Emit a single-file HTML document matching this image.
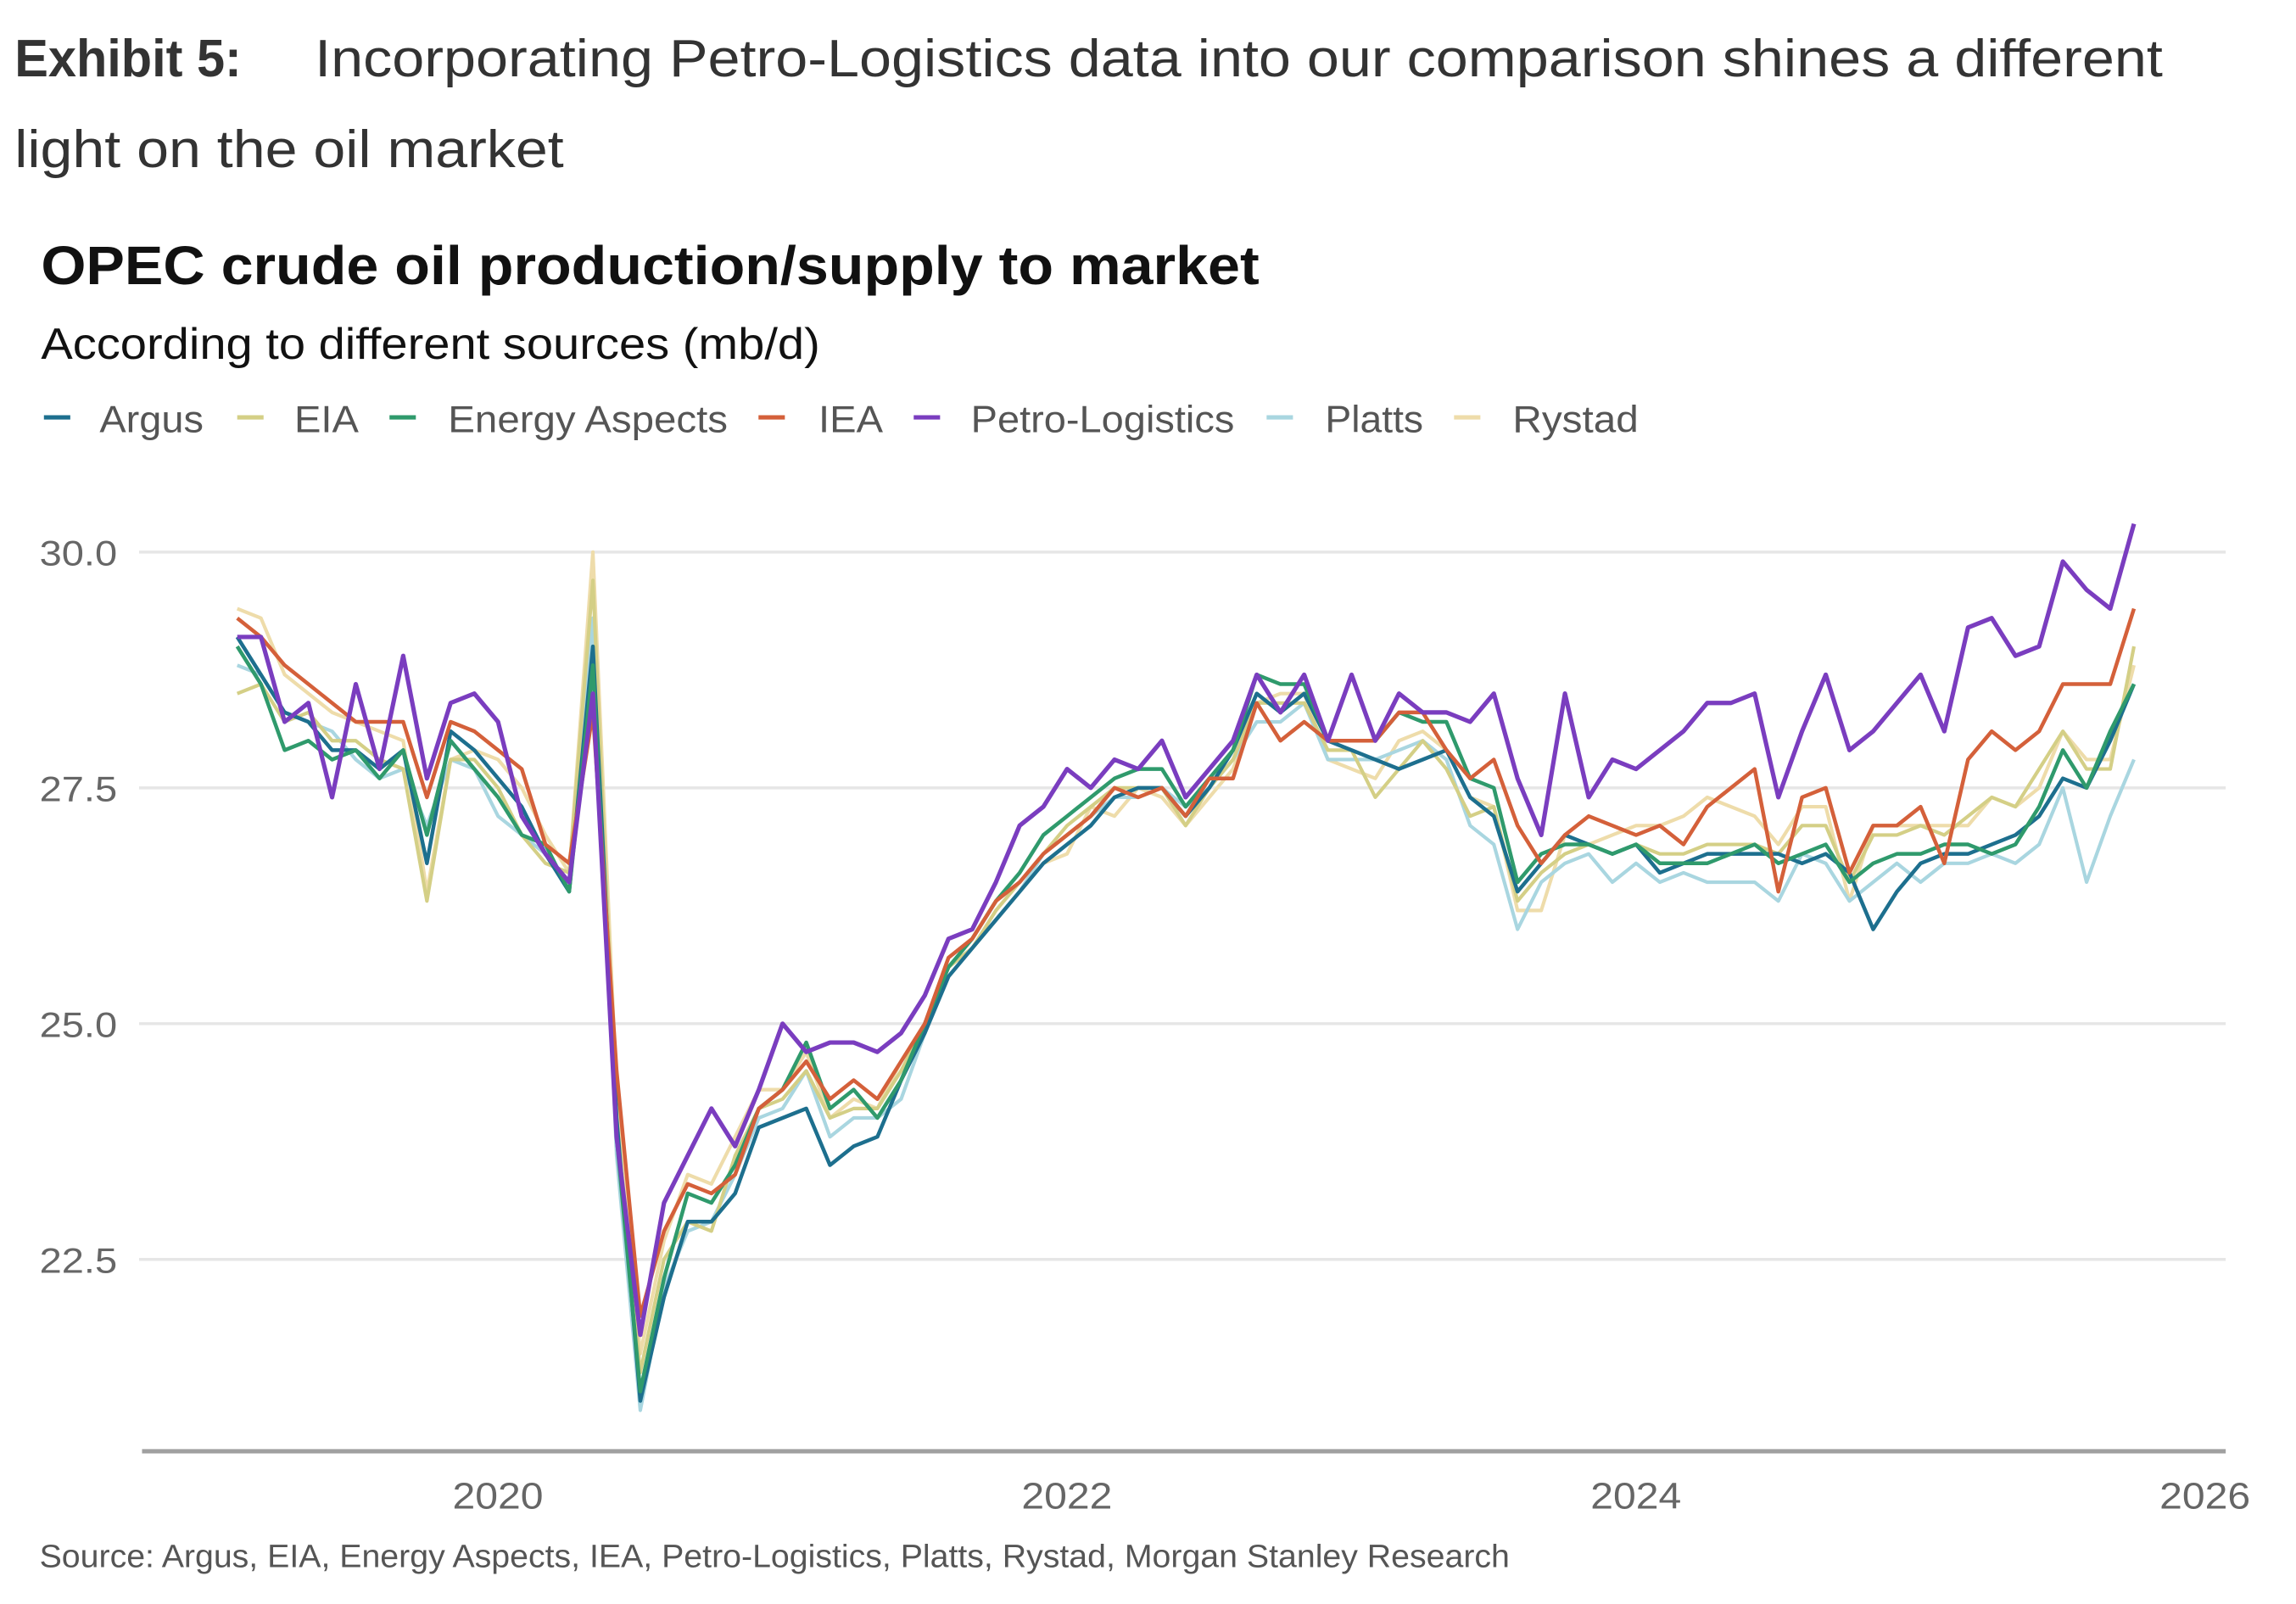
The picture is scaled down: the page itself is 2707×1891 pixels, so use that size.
<!DOCTYPE html>
<html><head><meta charset="utf-8"><style>
html,body{margin:0;padding:0;background:#fff;}
svg{display:block;}
text{font-family:"Liberation Sans",Arial,sans-serif;}
</style></head>
<body>
<svg id="chart" width="2707" height="1891" viewBox="0 0 1568 1095.3" preserveAspectRatio="none" xmlns="http://www.w3.org/2000/svg">
<rect width="1568" height="1096" fill="#fff"/>
<text x="10" y="52" font-size="36" font-weight="bold" fill="#333" textLength="155" lengthAdjust="spacingAndGlyphs">Exhibit 5:</text>
<text x="215" y="52" font-size="36" fill="#333" textLength="1262" lengthAdjust="spacingAndGlyphs">Incorporating Petro-Logistics data into our comparison shines a different</text>
<text x="10" y="114" font-size="36" fill="#333" textLength="375" lengthAdjust="spacingAndGlyphs">light on the oil market</text>
<text x="28" y="194" font-size="37" font-weight="bold" fill="#111" textLength="832" lengthAdjust="spacingAndGlyphs">OPEC crude oil production/supply to market</text>
<text x="28" y="245" font-size="30" fill="#111" textLength="532" lengthAdjust="spacingAndGlyphs">According to different sources (mb/d)</text>
<g id="legend"></g>
<g id="grid"></g>
<g id="series"></g>
<line x1="97" y1="991" x2="1520" y2="991" stroke="#a0a0a0" stroke-width="3"/>
<g id="xaxis"></g>
<text x="27" y="1070" font-size="22" fill="#555" textLength="1004" lengthAdjust="spacingAndGlyphs">Source: Argus, EIA, Energy Aspects, IEA, Petro-Logistics, Platts, Rystad, Morgan Stanley Research</text>
</svg>
<script>
const seriesNames = ["Argus","EIA","Energy Aspects","IEA","Petro-Logistics","Platts","Rystad"];
const seriesColors = ["#1d6f8e","#d4cf86","#2f9a6c","#d4603a","#7a3dbf","#a9d6e0","#eedcaa"];
const yTicks = [22.5,25.0,27.5,30.0];
const yTickLabels = ["22.5","25.0","27.5","30.0"];
const xTicks = [2020,2022,2024,2026];
const xTickLabels = ["2020","2022","2024","2026"];
const startYear = 2019.084;
const argus = [29.1,28.7,28.3,28.2,27.9,27.9,27.7,27.9,26.7,28.1,27.9,27.6,27.3,26.8,26.4,29.0,24.0,21.0,22.1,22.9,22.9,23.2,23.9,24.0,24.1,23.5,23.7,23.8,24.4,24.9,25.5,25.8,26.1,26.4,26.7,26.9,27.1,27.4,27.5,27.5,27.2,27.5,27.9,28.5,28.3,28.5,28.0,27.9,27.8,27.7,27.8,27.9,27.4,27.2,26.4,26.7,27.0,26.9,26.8,26.9,26.6,26.7,26.8,26.8,26.8,26.8,26.7,26.8,26.6,26.0,26.4,26.7,26.8,26.8,26.9,27.0,27.2,27.6,27.5,28.0,28.6];
const eia = [28.5,28.6,28.2,28.3,28.0,28.0,27.8,27.7,26.3,27.8,27.8,27.5,27.0,26.7,26.6,29.7,24.0,21.3,22.5,22.9,22.8,23.6,24.1,24.2,24.5,24.0,24.1,24.1,24.5,25.0,25.6,25.8,26.2,26.5,26.8,27.1,27.3,27.5,27.5,27.5,27.1,27.5,27.8,28.4,28.4,28.4,27.9,27.9,27.4,27.7,28.0,27.7,27.2,27.3,26.3,26.6,26.8,26.9,26.8,26.9,26.8,26.8,26.9,26.9,26.9,26.8,27.1,27.1,26.5,27.0,27.0,27.1,27.0,27.2,27.4,27.3,27.7,28.1,27.7,27.7,29.0];
const energyAspects = [29.0,28.6,27.9,28.0,27.8,27.9,27.6,27.9,27.0,28.0,27.7,27.4,27.0,26.9,26.4,28.8,23.8,21.1,22.3,23.2,23.1,23.5,24.1,24.3,24.8,24.1,24.3,24.0,24.4,25.0,25.6,25.9,26.3,26.6,27.0,27.2,27.4,27.6,27.7,27.7,27.3,27.6,27.9,28.7,28.6,28.6,28.0,28.0,28.0,28.3,28.2,28.2,27.6,27.5,26.5,26.8,26.9,26.9,26.8,26.9,26.7,26.7,26.7,26.8,26.9,26.7,26.8,26.9,26.5,26.7,26.8,26.8,26.9,26.9,26.8,26.9,27.3,27.9,27.5,28.1,28.6];
const iea = [29.3,29.1,28.8,28.6,28.4,28.2,28.2,28.2,27.4,28.2,28.1,27.9,27.7,26.9,26.7,28.3,24.5,21.9,22.8,23.3,23.2,23.4,24.1,24.3,24.6,24.2,24.4,24.2,24.6,25.0,25.7,25.9,26.3,26.5,26.8,27.0,27.2,27.5,27.4,27.5,27.2,27.6,27.6,28.4,28.0,28.2,28.0,28.0,28.0,28.3,28.3,27.9,27.6,27.8,27.1,26.7,27.0,27.2,27.1,27.0,27.1,26.9,27.3,27.5,27.7,26.4,27.4,27.5,26.6,27.1,27.1,27.3,26.7,27.8,28.1,27.9,28.1,28.6,28.6,28.6,29.4];
const petroLogistics = [29.1,29.1,28.2,28.4,27.4,28.6,27.7,28.9,27.6,28.4,28.5,28.2,27.2,26.8,26.5,28.5,23.8,21.7,23.1,23.6,24.1,23.7,24.3,25.0,24.7,24.8,24.8,24.7,24.9,25.3,25.9,26.0,26.5,27.1,27.3,27.7,27.5,27.8,27.7,28.0,27.4,27.7,28.0,28.7,28.3,28.7,28.0,28.7,28.0,28.5,28.3,28.3,28.2,28.5,27.6,27.0,28.5,27.4,27.8,27.7,27.9,28.1,28.4,28.4,28.5,27.4,28.1,28.7,27.9,28.1,28.4,28.7,28.1,29.2,29.3,28.9,29.0,29.9,29.6,29.4,30.3];
const platts = [28.8,28.7,28.3,28.2,28.1,27.8,27.6,27.7,27.1,27.8,27.7,27.2,27.0,26.8,26.5,29.3,23.6,20.9,22.2,22.8,22.9,23.4,24.0,24.1,24.5,23.8,24.0,24.0,24.2,24.9,25.6,25.8,26.1,26.4,26.8,27.0,27.2,27.4,27.4,27.5,27.3,27.5,27.8,28.2,28.2,28.4,27.8,27.8,27.8,27.9,28.0,27.8,27.1,26.9,26.0,26.5,26.7,26.8,26.5,26.7,26.5,26.6,26.5,26.5,26.5,26.3,26.8,26.7,26.3,26.5,26.7,26.5,26.7,26.7,26.8,26.7,26.9,27.5,26.5,27.2,27.8];
const rystad = [29.4,29.3,28.7,28.5,28.3,28.2,28.1,28.0,26.4,27.8,27.9,27.8,27.5,27.0,26.6,30.0,24.3,21.5,22.7,23.4,23.3,23.8,24.3,24.3,24.7,24.0,24.2,24.1,24.6,25.0,25.6,25.8,26.1,26.4,26.7,26.8,27.3,27.2,27.5,27.4,27.1,27.4,27.7,28.4,28.5,28.5,27.8,27.7,27.6,28.0,28.1,27.9,27.4,27.3,26.2,26.2,27.0,26.9,27.0,27.1,27.1,27.2,27.4,27.3,27.2,26.9,27.3,27.3,26.3,27.1,27.1,27.1,27.1,27.1,27.4,27.3,27.5,28.1,27.8,27.8,28.8];

const NS = "http://www.w3.org/2000/svg";
const X0 = 145.7, PX_PER_YEAR = 194.3;
function xScale(year){ return X0 + (year - 2019) * PX_PER_YEAR; }
function yScale(v){ return 377 + (30 - v) * 64.4; }
function monthYear(i){ return startYear + i / 12; }

const grid = document.getElementById('grid');
yTicks.forEach(function(t, k){
  const ln = document.createElementNS(NS,'line');
  ln.setAttribute('x1', 95); ln.setAttribute('x2', 1520);
  ln.setAttribute('y1', yScale(t)); ln.setAttribute('y2', yScale(t));
  ln.setAttribute('stroke', '#e6e6e6'); ln.setAttribute('stroke-width', 2);
  
  
  grid.appendChild(ln);
  const tx = document.createElementNS(NS,'text');
  tx.setAttribute('x', 27); tx.setAttribute('y', yScale(t) + 9);
  tx.setAttribute('font-size', 24); tx.setAttribute('fill', '#666');
  tx.setAttribute('textLength', 53); tx.setAttribute('lengthAdjust', 'spacingAndGlyphs');
  tx.textContent = yTickLabels[k];
  
  
  grid.appendChild(tx);
});

const xaxis = document.getElementById('xaxis');
xTicks.forEach(function(t, k){
  const tx = document.createElementNS(NS,'text');
  tx.setAttribute('x', xScale(t)); tx.setAttribute('y', 1030);
  tx.setAttribute('font-size', 25); tx.setAttribute('fill', '#666');
  tx.setAttribute('text-anchor', 'middle');
  tx.setAttribute('textLength', 62); tx.setAttribute('lengthAdjust', 'spacingAndGlyphs');
  tx.textContent = xTickLabels[k];
  
  
  xaxis.appendChild(tx);
});

const allSeries = [argus, eia, energyAspects, iea, petroLogistics, platts, rystad];
const drawOrder = [6,5,1,0,2,3,4];
const widths = [2.6,2.4,2.6,2.6,3,2.4,2.4];
const sg = document.getElementById('series');
drawOrder.forEach(function(s){
  const vals = allSeries[s];
  let d = '';
  vals.forEach(function(v, i){
    d += (i ? 'L' : 'M') + xScale(monthYear(i)).toFixed(2) + ',' + yScale(v).toFixed(2);
  });
  const p = document.createElementNS(NS,'path');
  p.setAttribute('d', d);
  p.setAttribute('fill', 'none');
  p.setAttribute('stroke', seriesColors[s]);
  p.setAttribute('stroke-width', widths[s]);
  p.setAttribute('stroke-linejoin', 'round');
  
  
  sg.appendChild(p);
});

const legendDash = [30,162,266,518,624,865,993];
const legendText = [68,201,306,559,663,905,1033];
const legendW = [71,44,191,44,180,67,86];
const lg = document.getElementById('legend');
seriesNames.forEach(function(n, s){
  const ln = document.createElementNS(NS,'line');
  ln.setAttribute('x1', legendDash[s]); ln.setAttribute('x2', legendDash[s] + 18);
  ln.setAttribute('y1', 285); ln.setAttribute('y2', 285);
  ln.setAttribute('stroke', seriesColors[s]); ln.setAttribute('stroke-width', 3);
  
  
  lg.appendChild(ln);
  const tx = document.createElementNS(NS,'text');
  tx.setAttribute('x', legendText[s]); tx.setAttribute('y', 295);
  tx.setAttribute('font-size', 26); tx.setAttribute('fill', '#555');
  tx.setAttribute('textLength', legendW[s]); tx.setAttribute('lengthAdjust', 'spacingAndGlyphs');
  tx.textContent = n;
  
  
  lg.appendChild(tx);
});
</script>
</body></html>
